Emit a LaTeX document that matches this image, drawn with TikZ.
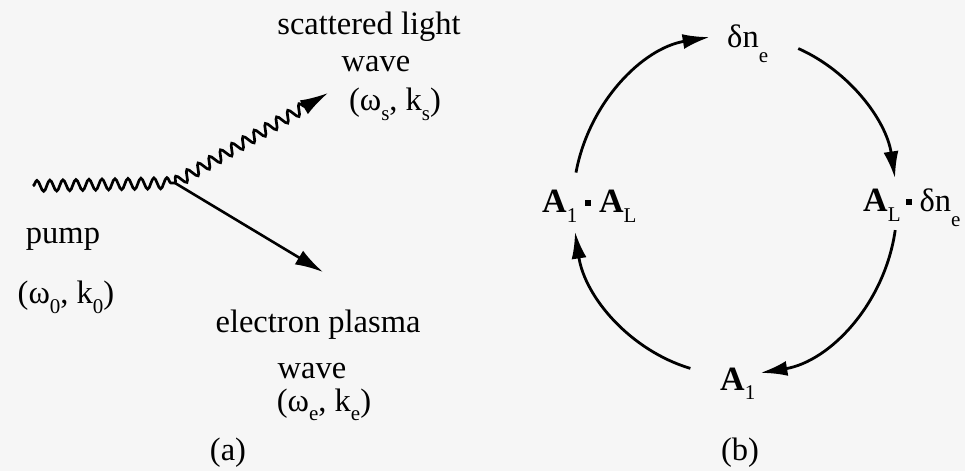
\documentclass[tikz,border=0pt]{standalone}
\usepackage{fontspec}
\setmainfont{Liberation Serif}
\usetikzlibrary{arrows.meta,decorations.pathmorphing}
\definecolor{bg}{RGB}{246,246,246}
\newcommand\lsub[2][-0.3em]{\raisebox{#1}{\fontsize{21}{21}\selectfont #2}}
\newcommand\cdotbox{\raisebox{0.22em}{\rule{5.5pt}{5.5pt}}}
\newcommand\bA{{\fontsize{34}{40}\selectfont\bfseries A}}
\begin{document}
\begin{tikzpicture}[x=1pt,y=1pt,
  lbl/.style={inner sep=0pt, anchor=base, font=\fontsize{32.5}{38}\selectfont},
  clbl/.style={inner sep=0pt, anchor=base west, font=\fontsize{32.5}{38}\selectfont},
  wavy/.style={line width=2.7pt, decorate, decoration={snake, segment length=13pt, amplitude=5.5pt}},
  arr/.style={line width=2.6pt, -{Latex[length=28pt,width=16pt]}},
  cyc/.style={line width=2.8pt, -{Latex[length=27pt,width=15pt]}}]
\fill[bg] (0,0) rectangle (965,471);
\useasboundingbox (0,0) rectangle (965,471);
% (a)
\coordinate (p0) at (33,285);
\coordinate (v) at (175,288);
\coordinate (sb) at (306,365);
\coordinate (st) at (328,378);
\coordinate (et) at (323,199);
\draw[wavy] (p0) -- (v);
\draw[wavy] (v) -- (sb);
\draw[arr] (sb) -- (st);
\draw[arr] (v) -- (et);
\node[lbl] (sl) at (369,436) {scattered light};
\node[lbl] (sw) at (376,399) {wave};
\node[lbl] (sk) at (395,360) {(ω\lsub{s}, k\lsub{s})};
\node[lbl] (pu) at (63,227) {pump};
\node[lbl] (pk) at (66,167) {(ω\lsub{0}, k\lsub{0})};
\node[lbl] (el) at (318,138) {electron plasma};
\node[lbl] (ew) at (312,93) {wave};
\node[lbl] (ek) at (324,60) {(ω\lsub{e}, k\lsub{e})};
\node[lbl] (la) at (228,11) {(a)};
\node[lbl] (lb) at (740,11) {(b)};
% (b)
\coordinate (c) at (735,266);
\node[clbl] (dn) at (727,423) {δn\lsub[-0.45em]{e}};
\node[clbl] (aldn) at (863,259) {\bA\lsub{L}\,\cdotbox\ δn\lsub[-0.45em]{e}};
\node[clbl] (a1al) at (542,258) {\bA\lsub{1}\ \cdotbox\ \bA\lsub{L}};
\node[clbl] (a1) at (720,81) {\bA\lsub{1}};
\path (c) ++(169:162pt and 170pt) coordinate (s1);
\path (c) ++(67:162pt and 170pt) coordinate (s2);
\path (c) ++(-8.5:162pt and 170pt) coordinate (s3);
\path (c) ++(-106:162pt and 170pt) coordinate (s4);
\draw[cyc] (s1) arc[start angle=169, end angle=99, x radius=162pt, y radius=170pt];
\draw[cyc] (s2) arc[start angle=67, end angle=9, x radius=162pt, y radius=170pt];
\draw[cyc] (s3) arc[start angle=-8.5, end angle=-81, x radius=162pt, y radius=170pt];
\draw[cyc] (s4) arc[start angle=-106, end angle=-171, x radius=162pt, y radius=170pt];
\end{tikzpicture}
\end{document}
